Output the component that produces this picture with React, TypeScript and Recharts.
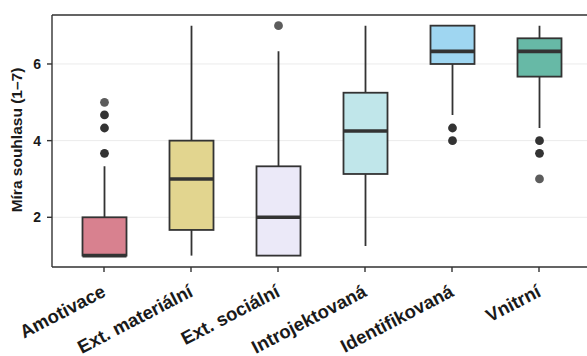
import React from "react"
import { ComposedChart, Bar, XAxis, YAxis, CartesianGrid, ReferenceLine } from "recharts"

// Motivation types (x categories)
const categories = ["Amotivace", "Ext. materiální", "Ext. sociální", "Introjektovaná", "Identifikovaná", "Vnitrní"]

// Box plot statistics (scale 1–7)
const whiskerLow = [1, 1, 1, 1.25, 4.67, 4.33]
const q1 = [1, 1.67, 1, 3.13, 6, 5.67]
const median = [1, 3, 2, 4.25, 6.33, 6.33]
const q3 = [2, 4, 3.33, 5.25, 7, 6.67]
const whiskerHigh = [3.33, 7, 6.33, 7, 7, 7]

// Outliers and how many respondents sit on each (single points look lighter)
const outliers = [[3.67, 4.33, 4.67, 5], [], [7], [], [4, 4.33], [3, 3.67, 4]]
const outlierCounts = [[2, 2, 2, 1], [], [1], [], [2, 2], [1, 2, 2]]

const fills = ["#D8818F", "#E2D58F", "#EBE9F8", "#C0E6EA", "#9FD6F1", "#67B9A6"]

const yTicks = [2, 4, 6]
const Y_MIN = 0.703
const Y_MAX = 7.278

const data = categories.map((name, i) => ({
  name,
  range: [whiskerLow[i], whiskerHigh[i]],
  q1: q1[i],
  median: median[i],
  q3: q3[i],
  outliers: outliers[i],
  counts: outlierCounts[i],
  fill: fills[i],
}))

const INK = "#333333"
const FONT = "'Liberation Sans', Arial, Helvetica, sans-serif"

// Draws one box plot inside the range bar that Recharts lays out for the whiskers
const BoxShape = (props: any) => {
  const { x, y, width, height, payload } = props
  const [lo, hi] = payload.range
  const top = Math.min(y, y + height)
  const h = Math.abs(height)
  const py = (v: number) => top + ((hi - v) / (hi - lo)) * h
  const cx = x + width / 2

  return (
    <g>
      <line x1={cx} x2={cx} y1={py(hi)} y2={py(payload.q3)} stroke={INK} strokeWidth={1.8} />
      <line x1={cx} x2={cx} y1={py(payload.q1)} y2={py(lo)} stroke={INK} strokeWidth={1.8} />
      <rect
        x={x}
        y={py(payload.q3)}
        width={width}
        height={py(payload.q1) - py(payload.q3)}
        fill={payload.fill}
        stroke={INK}
        strokeWidth={1.8}
      />
      <line x1={x} x2={x + width} y1={py(payload.median)} y2={py(payload.median)} stroke={INK} strokeWidth={3.6} />
      {payload.outliers.map((v: number, k: number) => (
        <circle
          key={k}
          cx={cx}
          cy={py(v)}
          r={4.4}
          fill={INK}
          fillOpacity={payload.counts[k] > 1 ? 1 : 0.8}
        />
      ))}
    </g>
  )
}

const XTick = ({ x, y, payload }: any) => {
  const ax = x + 3
  const ay = y + 21.5
  return (
    <text
      x={ax}
      y={ay}
      transform={`rotate(-27.5, ${ax}, ${ay})`}
      textAnchor="end"
      fontFamily={FONT}
      fontWeight="bold"
      fontSize={18.5}
      fill="#1a1a1a"
    >
      {payload.value}
    </text>
  )
}

export default function App() {
  return (
    <div style={{ position: "absolute", left: 0, top: 0, background: "#fff" }}>
      <ComposedChart width={587} height={356} data={data} margin={{ top: 15, right: -4, bottom: 0, left: 0 }}>
        <CartesianGrid vertical={false} stroke="#EBEBEB" strokeWidth={1} />
        <XAxis
          dataKey="name"
          height={89}
          padding={{ left: 8.5, right: 8.5 }}
          axisLine={{ stroke: INK, strokeWidth: 1.4 }}
          tickLine={{ stroke: INK, strokeWidth: 1.4 }}
          tickSize={5}
          interval={0}
          tick={<XTick />}
        />
        <YAxis
          type="number"
          domain={[Y_MIN, Y_MAX]}
          ticks={yTicks}
          width={52}
          allowDataOverflow
          axisLine={{ stroke: INK, strokeWidth: 1.4 }}
          tickLine={{ stroke: INK, strokeWidth: 1.4 }}
          tickSize={5}
          tickMargin={6}
          tick={{ fill: "#1a1a1a", fontSize: 14, fontWeight: "bold", fontFamily: FONT }}
          label={{
            content: () => (
              <text
                x={22}
                y={140}
                transform="rotate(-90, 22, 140)"
                textAnchor="middle"
                fontFamily={FONT}
                fontWeight="bold"
                fontSize={15.5}
                fill="#1a1a1a"
              >
                Míra souhlasu (1–7)
              </text>
            ),
          }}
        />
        <ReferenceLine y={Y_MAX} stroke={INK} strokeWidth={1.4} />
        <Bar dataKey="range" barSize={44} shape={<BoxShape />} isAnimationActive={false} />
      </ComposedChart>
    </div>
  )
}
